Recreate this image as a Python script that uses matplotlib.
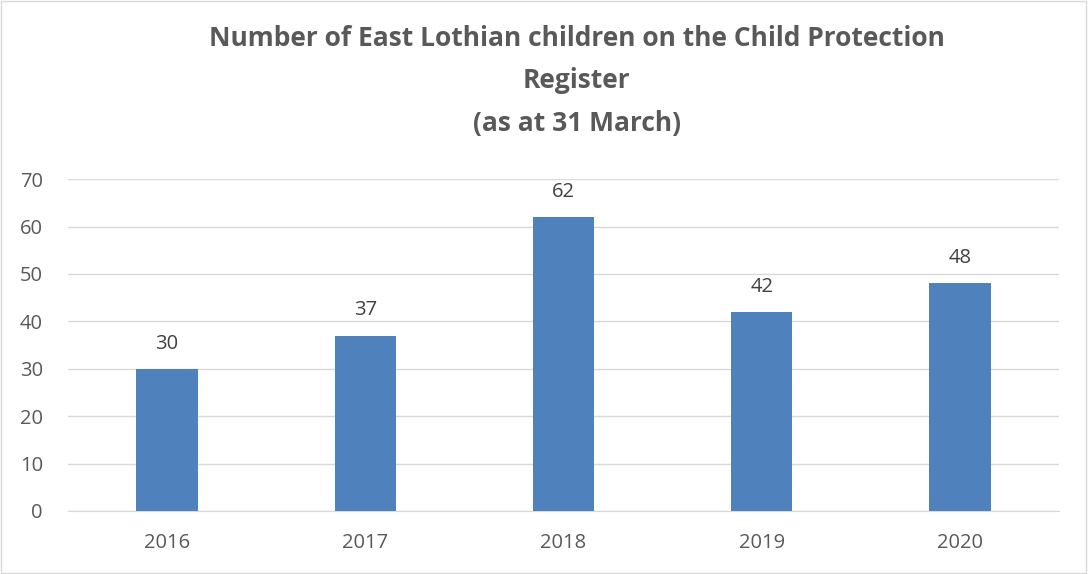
import matplotlib.pyplot as plt
from matplotlib.patches import Rectangle

years = ["2016", "2017", "2018", "2019", "2020"]
children = [30, 37, 62, 42, 48]
y_ticks = [0, 10, 20, 30, 40, 50, 60, 70]

plt.rcParams['font.family'] = ['Open Sans', 'DejaVu Sans']
text_col = "#595959"

fig = plt.figure(figsize=(10.88, 5.74), dpi=100)
ax = fig.add_axes([0.0625, 0.1098, 0.9108, 0.5782])

x = range(len(years))
bars = ax.bar(x, children, width=0.31, color="#4F81BD", zorder=3)
for xi, v in zip(x, children):
    ax.text(xi, v + 3.2, str(v), ha="center", va="bottom", fontsize=14.5, color="#404040")

ax.set_xlim(-0.5, len(years) - 0.5)
ax.set_ylim(0, 70)
ax.set_yticks(y_ticks)
ax.set_xticks(list(x))
ax.set_xticklabels(years)
ax.yaxis.grid(True, color="#D9D9D9", linewidth=1, zorder=0)
for s in ["top", "right", "left"]:
    ax.spines[s].set_visible(False)
ax.spines["bottom"].set_color("#D9D9D9")
ax.tick_params(axis="both", length=0, labelsize=14.5, labelcolor=text_col)
ax.tick_params(axis="x", pad=16)
ax.tick_params(axis="y", pad=18)

fig.text(0.53, 0.762, "Number of East Lothian children on the Child Protection\nRegister\n(as at 31 March)",
         ha="center", va="bottom", fontsize=19, fontweight="bold", color=text_col, linespacing=1.72)

fig.patches.append(Rectangle((0.001, 0.002), 0.997, 0.996, transform=fig.transFigure,
                             fill=False, edgecolor="#D9D9D9", linewidth=1))

fig.savefig("out.png", dpi=100, facecolor="white")
